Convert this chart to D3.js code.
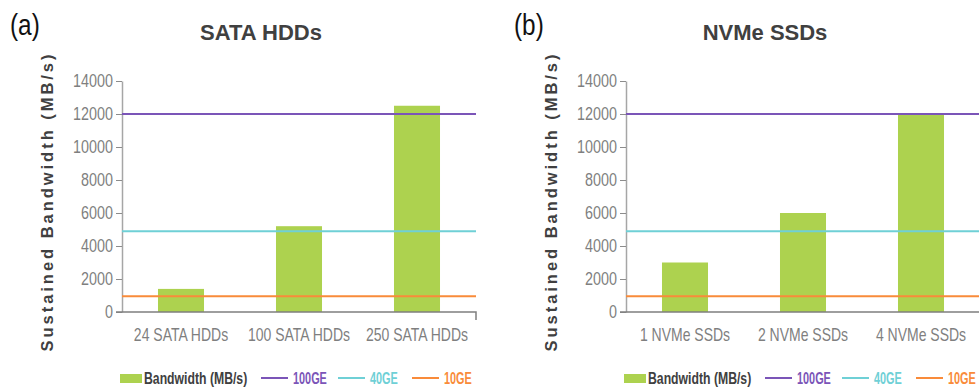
<!DOCTYPE html>
<html>
<head>
<meta charset="utf-8">
<script src="https://cdn.jsdelivr.net/npm/d3@7"></script>
<style>
  body { margin: 0; background: #fff; }
  svg { display: block; }
</style>
</head>
<body>
<div id="chart"></div>
<script>
// data
var panelTags = ["(a)", "(b)"];
var panelTitles = ["SATA HDDs", "NVMe SSDs"];
var hddCategories = ["24 SATA HDDs", "100 SATA HDDs", "250 SATA HDDs"];
var hddBandwidth = [1400, 5200, 12500];
var ssdCategories = ["1 NVMe SSDs", "2 NVMe SSDs", "4 NVMe SSDs"];
var ssdBandwidth = [3000, 6000, 12000];
var linkNames = ["100GE", "40GE", "10GE"];
var linkValues = [12000, 4900, 950];
var yTicks = [0, 2000, 4000, 6000, 8000, 10000, 12000, 14000];
var barLabel = "Bandwidth (MB/s)";
var yTitle = "Sustained Bandwidth (MB/s)";

// no narrow face installed: squeeze Liberation Sans horizontally
function squeeze(sel, k) {
  sel.each(function() {
    var t = d3.select(this);
    var x = +t.attr("x") || 0;
    var y = +t.attr("y") || 0;
    t.attr("x", null).attr("y", null)
      .attr("transform", `translate(${x},${y}) scale(${k},1)`);
  });
}

function init() {
  var w = 979;
  var h = 390;
  var panelShift = 504;
  var left = 122, right = 476, top = 81, bottom = 312;

  var green = "#add24f";
  var linkColors = ["#7b55b8", "#6fd0d6", "#f98b3a"];
  var sans = "'Liberation Sans', Arial, sans-serif";

  var svg = d3.select("#chart")
    .append("svg")
    .attr("width", w)
    .attr("height", h)
    .attr("font-family", sans);

  var panels = [
    { cats: hddCategories, vals: hddBandwidth },
    { cats: ssdCategories, vals: ssdBandwidth }
  ];

  panels.forEach(function(p, i) {
    var g = svg.append("g")
      .attr("transform", `translate(${i * panelShift},0)`);

    var xScale = d3.scaleBand()
      .domain(p.cats)
      .range([left, right])
      .paddingInner(0.61)
      .paddingOuter(0.305);

    var yScale = d3.scaleLinear()
      .domain([0, 14000])
      .range([bottom, top]);

    // panel tag and title
    g.append("text")
      .attr("x", 10)
      .attr("y", 35)
      .attr("font-size", 29)
      .attr("fill", "#111")
      .text(panelTags[i])
      .call(squeeze, 0.84);

    g.append("text")
      .attr("x", 261)
      .attr("y", 40)
      .attr("text-anchor", "middle")
      .attr("font-weight", "bold")
      .attr("font-size", 22)
      .attr("fill", "#404040")
      .text(panelTitles[i])
      .call(squeeze, 1.0);

    // y axis title
    g.append("text")
      .attr("transform", "translate(53,203) rotate(-90)")
      .attr("text-anchor", "middle")
      .attr("font-weight", "bold")
      .attr("font-size", 16.5)
      .attr("fill", "#404040")
      .attr("textLength", 297)
      .attr("lengthAdjust", "spacing")
      .text(yTitle);

    // bars
    g.selectAll("rect.bar")
      .data(p.vals)
      .enter()
      .append("rect")
      .attr("class", "bar")
      .attr("x", (d, j) => xScale(p.cats[j]))
      .attr("y", d => yScale(d))
      .attr("width", xScale.bandwidth())
      .attr("height", d => bottom - yScale(d))
      .attr("fill", green);

    // y axis
    var yAxis = d3.axisLeft(yScale)
      .tickValues(yTicks)
      .tickFormat(d3.format("d"))
      .tickSize(6)
      .tickSizeOuter(0)
      .tickPadding(3);

    var ya = g.append("g")
      .attr("transform", `translate(${left},0)`)
      .call(yAxis);
    ya.select(".domain").attr("stroke", "#a6a6a6").attr("stroke-width", 1.5);
    ya.selectAll(".tick line").attr("stroke", "#8c8c8c");
    ya.selectAll(".tick text")
      .attr("font-family", sans)
      .attr("font-size", 17.5)
      .attr("fill", "#7f7f7f")
      .call(squeeze, 0.82);

    // x axis
    var xAxis = d3.axisBottom(xScale)
      .tickSize(0)
      .tickPadding(17);

    var xa = g.append("g")
      .attr("transform", `translate(0,${bottom})`)
      .call(xAxis);
    xa.select(".domain").remove();
    xa.selectAll(".tick text")
      .attr("font-family", sans)
      .attr("font-size", 17.5)
      .attr("fill", "#7f7f7f")
      .call(squeeze, 0.8);

    g.append("path")
      .attr("d", `M${left - 6},${bottom}H${right}V${bottom + 8}`)
      .attr("fill", "none")
      .attr("stroke", "#7f7f7f")
      .attr("stroke-width", 1.5);

    // network link reference lines
    g.selectAll("line.link")
      .data(linkValues)
      .enter()
      .append("line")
      .attr("class", "link")
      .attr("x1", left)
      .attr("x2", right + (i === 1 ? 4 : 0))
      .attr("y1", d => yScale(d))
      .attr("y2", d => yScale(d))
      .attr("stroke", (d, j) => linkColors[j])
      .attr("stroke-width", 2);

    // legend
    var lg = g.append("g").attr("font-weight", "bold").attr("font-size", 17);
    lg.append("rect")
      .attr("x", 120).attr("y", 374)
      .attr("width", 22).attr("height", 9)
      .attr("fill", green);
    lg.append("text")
      .attr("x", 144).attr("y", 384)
      .attr("fill", "#404040")
      .text(barLabel)
      .call(squeeze, 0.72);

    var legendX = [261, 338, 412];
    linkNames.forEach(function(name, j) {
      lg.append("line")
        .attr("x1", legendX[j]).attr("x2", legendX[j] + 27)
        .attr("y1", 378).attr("y2", 378)
        .attr("stroke", linkColors[j])
        .attr("stroke-width", 2);
      lg.append("text")
        .attr("x", legendX[j] + 32).attr("y", 384)
        .attr("fill", linkColors[j])
        .text(name)
        .call(squeeze, 0.64);
    });
  });
}

window.onload = init;
</script>
</body>
</html>
